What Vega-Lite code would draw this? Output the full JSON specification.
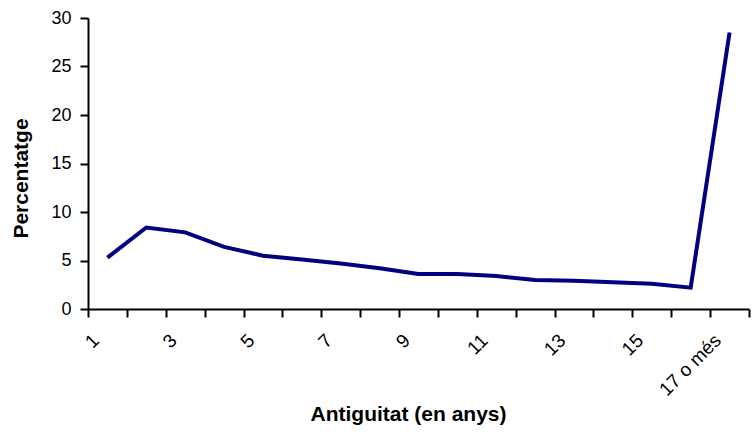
{
  "$schema": "https://vega.github.io/schema/vega-lite/v6.json",
  "width": 661,
  "height": 291,
  "autosize": "none",
  "padding": {"left": 88, "top": 18, "right": 4, "bottom": 123},
  "background": "white",
  "config": {
    "view": {"stroke": null},
    "font": "Liberation Sans",
    "axis": {
      "labelFont": "Liberation Sans",
      "titleFont": "Liberation Sans",
      "labelColor": "black",
      "titleColor": "black",
      "domainColor": "black",
      "tickColor": "black",
      "domainWidth": 2,
      "tickWidth": 2,
      "tickSize": 8,
      "labelFontSize": 18,
      "titleFontSize": 21,
      "titleFontWeight": "bold",
      "grid": false
    }
  },
  "data": {
    "values": [
      {"antiguitat": "1", "percentatge": 5.3},
      {"antiguitat": "2", "percentatge": 8.4},
      {"antiguitat": "3", "percentatge": 7.9},
      {"antiguitat": "4", "percentatge": 6.4},
      {"antiguitat": "5", "percentatge": 5.5},
      {"antiguitat": "6", "percentatge": 5.1},
      {"antiguitat": "7", "percentatge": 4.7},
      {"antiguitat": "8", "percentatge": 4.2},
      {"antiguitat": "9", "percentatge": 3.6},
      {"antiguitat": "10", "percentatge": 3.6},
      {"antiguitat": "11", "percentatge": 3.4},
      {"antiguitat": "12", "percentatge": 3.0},
      {"antiguitat": "13", "percentatge": 2.9},
      {"antiguitat": "14", "percentatge": 2.75},
      {"antiguitat": "15", "percentatge": 2.6},
      {"antiguitat": "16", "percentatge": 2.2},
      {"antiguitat": "17 o més", "percentatge": 28.5}
    ]
  },
  "mark": {"type": "line", "color": "#000080", "strokeWidth": 4, "strokeJoin": "miter"},
  "encoding": {
    "x": {
      "field": "antiguitat",
      "type": "ordinal",
      "sort": null,
      "scale": {"type": "band", "paddingInner": 0, "paddingOuter": 0},
      "axis": {
        "title": "Antiguitat (en anys)",
        "tickBand": "extent",
        "labelAngle": -45,
        "labelAlign": "right",
        "labelBaseline": "middle",
        "labelFontSize": 19,
        "labelPadding": 20,
        "labelOffset": -12,
        "labelOverlap": false,
        "labelExpr": "indexof(['1','3','5','7','9','11','13','15','17 o més'], datum.value) >= 0 ? datum.label : ''",
        "titleX": 320,
        "titleY": 111,
        "titleBaseline": "alphabetic",
        "titleAnchor": null
      }
    },
    "y": {
      "field": "percentatge",
      "type": "quantitative",
      "scale": {"domain": [0, 30], "nice": false},
      "axis": {
        "title": "Percentatge",
        "values": [0, 5, 10, 15, 20, 25, 30],
        "labelPadding": 9,
        "titleAngle": -90,
        "titleX": -61,
        "titleY": 160,
        "titleBaseline": "alphabetic",
        "titleAlign": "center"
      }
    }
  }
}
